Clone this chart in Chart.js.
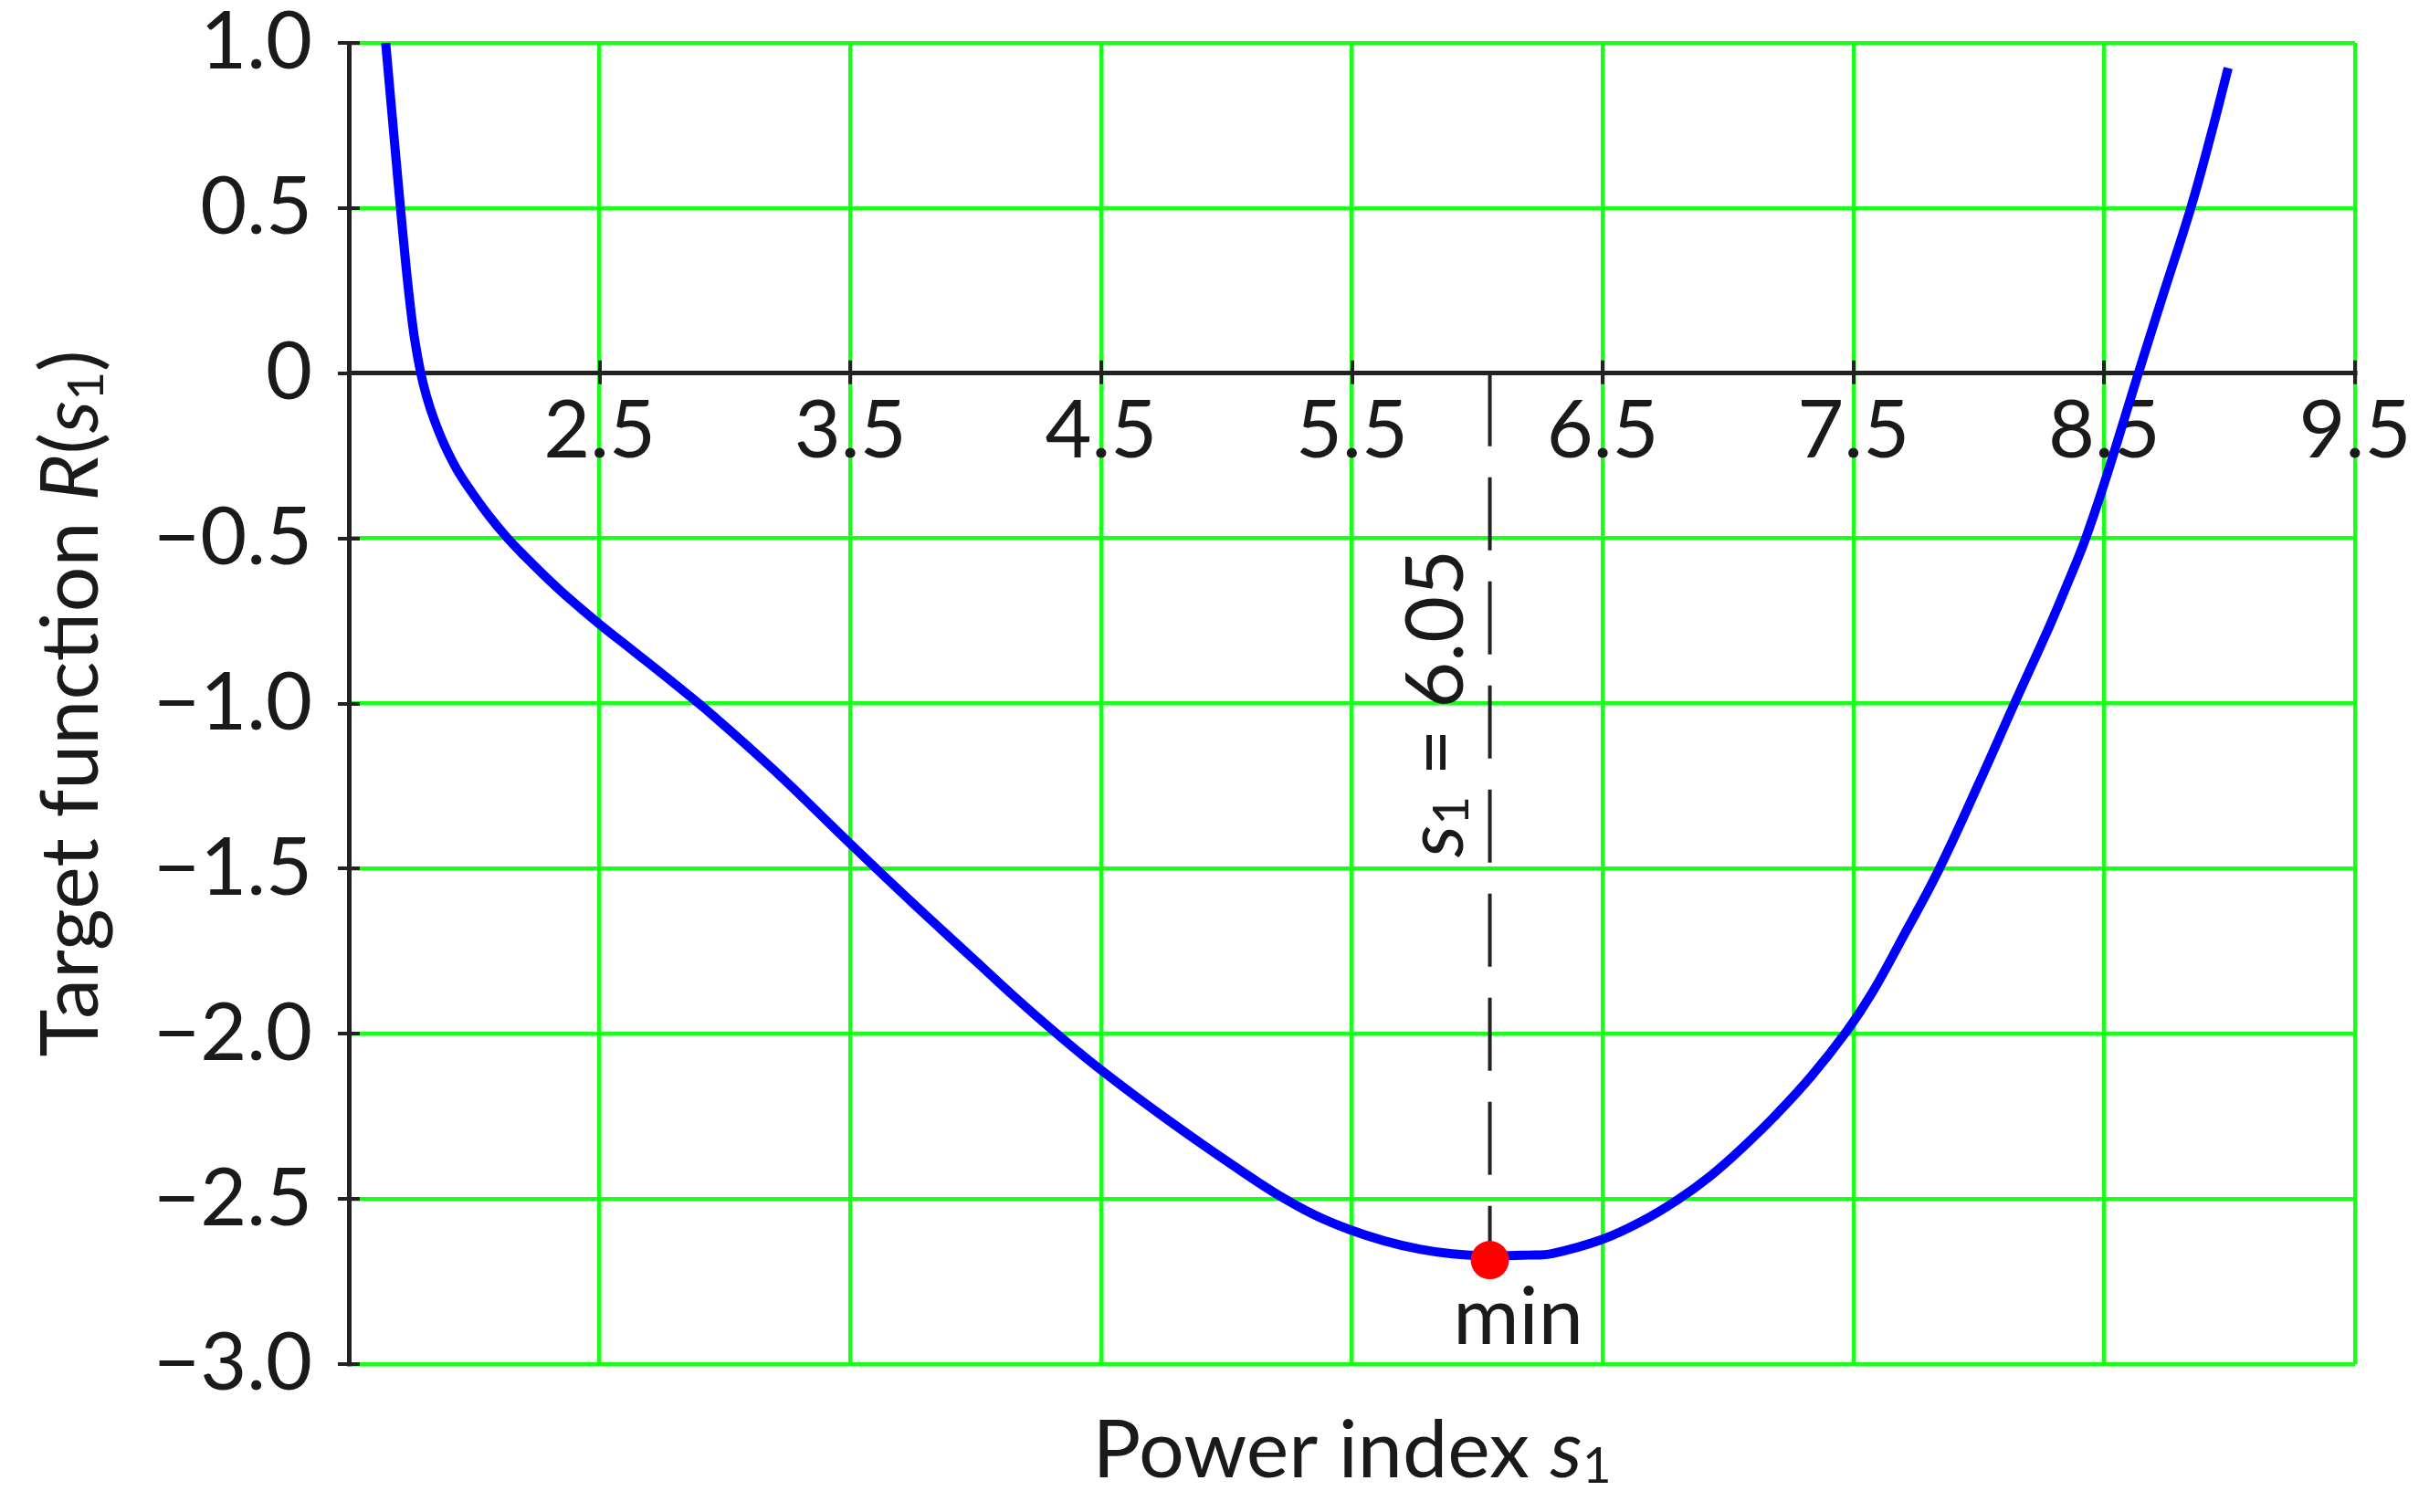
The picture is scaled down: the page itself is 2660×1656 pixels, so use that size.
<!DOCTYPE html>
<html>
<head>
<meta charset="utf-8">
<script src="https://cdn.jsdelivr.net/npm/chart.js@4.4.0/dist/chart.umd.min.js"></script>
<style>
  html, body { margin: 0; padding: 0; background: #ffffff; }
  #wrap { width: 2660px; height: 1656px; }
</style>
</head>
<body>
<div id="wrap"><canvas id="myChart" width="2660" height="1656"></canvas></div>
<script>
// values (s1 -> R(s1))
const powerIndex = [1.647, 1.668, 1.688, 1.706, 1.724, 1.742, 1.762, 1.787, 1.81, 1.84,
  1.88, 1.93, 1.99, 2.06, 2.13, 2.2, 2.29, 2.38, 2.495, 2.633,
  2.79, 2.95, 3.2, 3.5, 3.75, 4.0, 4.15, 4.3, 4.45, 4.6,
  4.75, 4.9, 5.06, 5.206, 5.35, 5.491, 5.63, 5.77, 5.9, 6.05,
  6.2, 6.3, 6.5, 6.65, 6.8, 6.93, 7.05, 7.18, 7.33, 7.475,
  7.575, 7.695, 7.839, 7.995, 8.142, 8.285, 8.36, 8.421, 8.48, 8.53,
  8.636, 8.74, 8.845, 8.925, 8.994]
const targetR = [1.0, 0.82, 0.65, 0.50, 0.355, 0.225, 0.105, 0.0, -0.07, -0.14,
  -0.215, -0.29, -0.36, -0.433, -0.497, -0.553, -0.62, -0.683, -0.757, -0.84,
  -0.935, -1.035, -1.205, -1.425, -1.605, -1.78, -1.885, -1.985, -2.08, -2.168,
  -2.252, -2.333, -2.416, -2.488, -2.548, -2.593, -2.627, -2.652, -2.666, -2.672,
  -2.67, -2.665, -2.622, -2.57, -2.502, -2.43, -2.35, -2.254, -2.13, -1.99,
  -1.875, -1.71, -1.505, -1.25, -1.0, -0.76, -0.625, -0.51, -0.38, -0.262,
  0.0, 0.25, 0.5, 0.72, 0.924]

const minS1 = 6.05
const minR = -2.685

const xTickValues = [1.5, 2.5, 3.5, 4.5, 5.5, 6.5, 7.5, 8.5, 9.5]
const xTickLabels = ['', '2.5', '3.5', '4.5', '5.5', '6.5', '7.5', '8.5', '9.5']
const yTickValues = [1, 0.5, 0, -0.5, -1, -1.5, -2, -2.5, -3]
const yTickLabels = ['1.0', '0.5', '0', '\u22120.5', '\u22121.0', '\u22121.5', '\u22122.0', '\u22122.5', '\u22123.0']

const FONT = 'Lato, "Open Sans", sans-serif'
const FSIZE = 88
const TEXT = '#1a1a1a'
const AXIS = '#222222'
const GREEN = '#19ff19'

function lookup(values, labels, v){
  for (let i = 0; i < values.length; i++) {
    if (Math.abs(values[i] - v) < 1e-6) { return labels[i] }
  }
  return ''
}

// draws text made of pieces (italic / subscript), centered on x, baseline y
function drawRich(ctx, parts, x, y, size){
  let widths = []
  let total = 0
  parts.forEach(p => {
    ctx.font = (p.italic ? 'italic ' : '') + Math.round(p.sub ? size * 0.62 : size) + 'px ' + FONT
    let w = ctx.measureText(p.t).width
    widths.push(w)
    total += w
  })
  let cx = x - total / 2
  ctx.textAlign = 'left'
  ctx.textBaseline = 'alphabetic'
  parts.forEach((p, i) => {
    ctx.font = (p.italic ? 'italic ' : '') + Math.round(p.sub ? size * 0.62 : size) + 'px ' + FONT
    ctx.fillText(p.t, cx, p.sub ? y + size * 0.07 : y)
    cx += widths[i]
  })
}

const axisExtras = {
  id: 'axisExtras',
  beforeDatasetsDraw(chart){
    const {ctx, scales: {x, y}} = chart
    const y0 = y.getPixelForValue(0)
    const xl = x.getPixelForValue(1.5)
    ctx.save()
    ctx.strokeStyle = AXIS
    ctx.lineWidth = 4
    ctx.beginPath()
    x.ticks.forEach(t => {
      if (Math.abs(t.value - 1.5) < 1e-6) { return }
      const px = Math.round(x.getPixelForValue(t.value))
      ctx.moveTo(px, y0 - 14)
      ctx.lineTo(px, y0 + 12)
    })
    y.ticks.forEach(t => {
      const py = Math.round(y.getPixelForValue(t.value))
      ctx.moveTo(xl - 12, py)
      ctx.lineTo(xl + 12, py)
    })
    ctx.stroke()
    ctx.restore()
  },
  afterDraw(chart){
    const {ctx, chartArea, scales: {x, y}} = chart
    ctx.save()
    ctx.fillStyle = TEXT
    // x title
    drawRich(ctx, [{t: 'Power index '}, {t: 's', italic: true}, {t: '1', sub: true}],
      (chartArea.left + chartArea.right) / 2, 1618, FSIZE)
    // y title
    ctx.save()
    ctx.translate(107, (chartArea.top + chartArea.bottom) / 2)
    ctx.rotate(-Math.PI / 2)
    drawRich(ctx, [{t: 'Target function '}, {t: 'R', italic: true}, {t: '('}, {t: 's', italic: true},
      {t: '1', sub: true}, {t: ')'}], 0, 0, FSIZE)
    ctx.restore()
    // label along the dashed line
    ctx.save()
    ctx.translate(x.getPixelForValue(minS1) - 30, y.getPixelForValue(-1.0))
    ctx.rotate(-Math.PI / 2)
    drawRich(ctx, [{t: 's', italic: true}, {t: '1', sub: true}, {t: ' = 6.05'}], 0, 0, FSIZE)
    ctx.restore()
    // min label
    drawRich(ctx, [{t: 'min'}], x.getPixelForValue(minS1) + 31, y.getPixelForValue(minR) + 92, FSIZE)
    ctx.restore()
  }
}

const curvePoints = powerIndex.map((s, i) => ({x: s, y: targetR[i]}))

const data = {
  datasets: [
    {
      label: 'min',
      data: [{x: minS1, y: minR}],
      showLine: false,
      pointRadius: 21,
      pointBackgroundColor: '#ff0000',
      pointBorderWidth: 0,
      clip: false
    },
    {
      label: 's1 line',
      data: [{x: minS1, y: 0}, {x: minS1, y: minR}],
      borderColor: AXIS,
      borderWidth: 4,
      borderDash: [80, 34],
      pointRadius: 0
    },
    {
      label: 'R(s1)',
      data: curvePoints,
      borderColor: '#0000ff',
      borderWidth: 10,
      pointRadius: 0,
      tension: 0.4,
      borderJoinStyle: 'round',
      clip: 0
    }
  ]
}

const config = {
  type: 'line',
  data: data,
  options: {
    responsive: false,
    animation: false,
    events: [],
    layout: {
      padding: {top: 47, right: 81, bottom: 162, left: 0}
    },
    scales: {
      x: {
        type: 'linear',
        position: {y: 0},
        min: 1.5,
        max: 9.5,
        ticks: {
          stepSize: 1,
          padding: 20,
          color: TEXT,
          autoSkip: false,
          maxRotation: 0,
          font: {family: FONT, size: FSIZE, lineHeight: 1},
          callback: function(value){ return lookup(xTickValues, xTickLabels, value) }
        },
        grid: {
          color: (c) => (c.tick && Math.abs(c.tick.value - 1.5) < 1e-6) ? 'rgba(0,0,0,0)' : GREEN,
          lineWidth: 4.5,
          drawTicks: false
        },
        border: {display: true, color: AXIS, width: 5},
        afterFit: function(s){ s.paddingLeft = 0; s.paddingRight = 0 }
      },
      y: {
        type: 'linear',
        position: 'left',
        min: -3,
        max: 1,
        ticks: {
          stepSize: 0.5,
          padding: 40,
          color: TEXT,
          autoSkip: false,
          font: {family: FONT, size: FSIZE, lineHeight: 1},
          callback: function(value){ return lookup(yTickValues, yTickLabels, value) }
        },
        grid: {
          color: (c) => (c.tick && Math.abs(c.tick.value) < 1e-6) ? 'rgba(0,0,0,0)' : GREEN,
          lineWidth: 4.5,
          drawTicks: false
        },
        border: {display: true, color: AXIS, width: 5},
        afterFit: function(s){ s.width = 382; s.paddingTop = 0; s.paddingBottom = 0 }
      }
    },
    plugins: {
      legend: {display: false},
      tooltip: {enabled: false},
      title: {display: false}
    }
  },
  plugins: [axisExtras]
}

const myChart = new Chart(document.getElementById('myChart'), config)
</script>
</body>
</html>
